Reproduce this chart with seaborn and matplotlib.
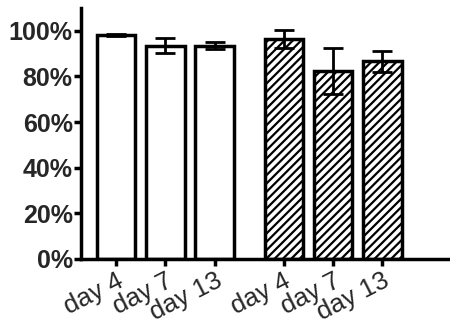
import matplotlib
matplotlib.use("Agg")
import matplotlib.pyplot as plt
import matplotlib.transforms as mtransforms
import seaborn as sns
import pandas as pd
import numpy as np

labels = ["day 4", "day 7", "day 13", "day 4", "day 7", "day 13"]
positions = [0, 1, 2, 3.4, 4.4, 5.4]
groups = ["plain", "plain", "plain", "hatched", "hatched", "hatched"]
means = [98.3, 93.4, 93.5, 96.4, 82.4, 86.6]
errors = [0.5, 3.3, 1.5, 4.0, 10.0, 4.6]

sns.set_style("white")
plt.rcParams["font.family"] = ["Liberation Sans", "DejaVu Sans"]
plt.rcParams["hatch.linewidth"] = 1.6
plt.rcParams["hatch.color"] = "black"

df = pd.DataFrame({"pos": positions, "value": means, "group": groups})

fig = plt.figure(figsize=(4.5, 3.24), dpi=100)
ax = fig.add_axes([81/450, 1 - 259/324, (449-81)/450, (259-8)/324])

sns.barplot(data=df, x="pos", y="value", native_scale=True, width=0.78,
            color="white", edgecolor="black", linewidth=2.5, errorbar=None,
            ax=ax, zorder=2)

for patch, g in zip(ax.patches, groups):
    patch.set_facecolor("white")
    if g == "hatched":
        patch.set_hatch("////")

ax.errorbar(positions, means, yerr=errors, fmt="none", ecolor="black",
            elinewidth=2, capsize=7.5, capthick=2, zorder=3)

ax.set_xlim(-0.71, 6.75)
ax.set_ylim(0, 110)
ax.set_yticks([0, 20, 40, 60, 80, 100])
ax.set_yticklabels([f"{v}%" for v in [0, 20, 40, 60, 80, 100]],
                   fontsize=18, fontweight="bold")
ax.set_xticks(positions)
ax.set_xticklabels(labels, fontsize=18.5, rotation=27, ha="right",
                   rotation_mode="anchor")
offset = mtransforms.ScaledTranslation(3/100, -1/100, fig.dpi_scale_trans)
for lab in ax.get_xticklabels():
    lab.set_transform(lab.get_transform() + offset)
ax.set_xlabel("")
ax.set_ylabel("")

for s in ["top", "right"]:
    ax.spines[s].set_visible(False)
for s in ["left", "bottom"]:
    ax.spines[s].set_linewidth(2.5)
    ax.spines[s].set_color("black")

ax.tick_params(axis="both", which="major", length=5, width=2.5,
               color="black", direction="out", bottom=True, left=True)
ax.tick_params(axis="y", pad=1)
ax.tick_params(axis="x", pad=2)

fig.savefig("out.png", dpi=100)
